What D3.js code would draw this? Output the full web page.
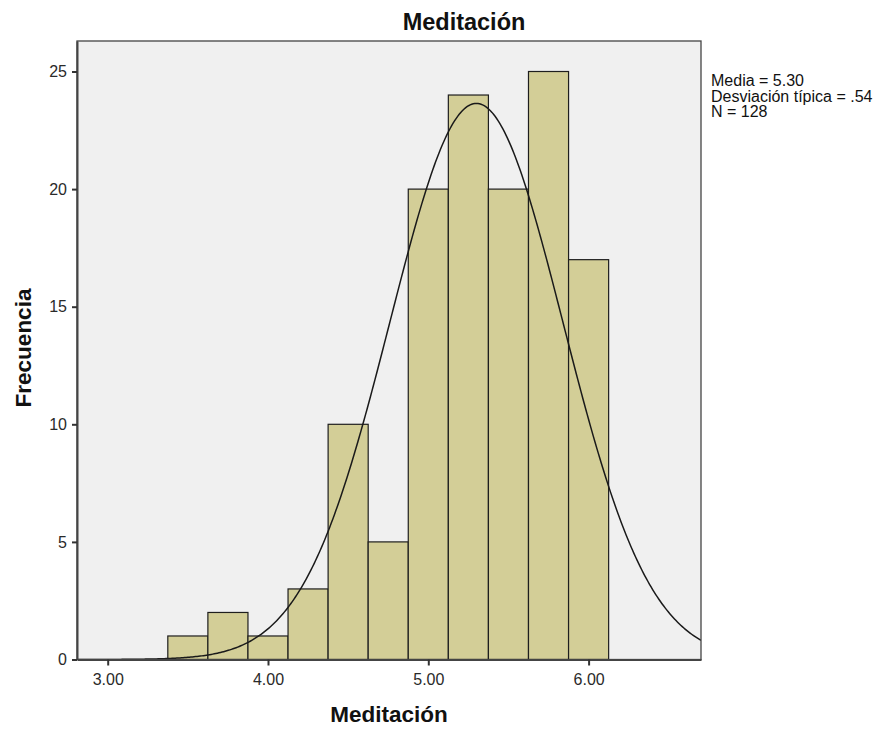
<!DOCTYPE html>
<html>
<head>
<meta charset="utf-8">
<script src="https://cdn.jsdelivr.net/npm/d3@7"></script>
<style>
  body { margin: 0; background: #fff; }
  text { font-family: "Liberation Sans", Arial, sans-serif; }
</style>
</head>
<body>
<div id="chart"></div>
<script>
// Histogram data (bin centres and counts)
const binCenters = [3.50, 3.75, 4.00, 4.25, 4.50, 4.75, 5.00, 5.25, 5.50, 5.75, 6.00];
const counts = [1, 2, 1, 3, 10, 5, 20, 24, 20, 25, 17];
const binWidth = 0.25;
const xTicks = [3, 4, 5, 6];
const yTicks = [0, 5, 10, 15, 20, 25];
const stats = { mean: 5.30, sd: 0.54, n: 128 };
const legendLines = ["Media = 5.30", "Desviación típica = .54", "N = 128"];

const width = 880, height = 730;
const plot = { left: 77, right: 701, top: 41, bottom: 659.5 };

const svg = d3.select("#chart").append("svg")
  .attr("width", width)
  .attr("height", height);

// scales: 3.00 sits at 107.7px, 1 unit = 160.3px
const pxPerUnit = 160.3;
const x = d3.scaleLinear()
  .domain([3 - (107.7 - plot.left) / pxPerUnit, 3 + (plot.right - 107.7) / pxPerUnit])
  .range([plot.left, plot.right]);
const y = d3.scaleLinear()
  .domain([0, (plot.bottom - plot.top) / 23.52])
  .range([plot.bottom, plot.top]);

// plot background
svg.append("rect")
  .attr("x", plot.left).attr("y", plot.top)
  .attr("width", plot.right - plot.left)
  .attr("height", plot.bottom - plot.top)
  .attr("fill", "#f0f0f0");

svg.append("clipPath").attr("id", "clip")
  .append("rect")
  .attr("x", plot.left).attr("y", plot.top)
  .attr("width", plot.right - plot.left)
  .attr("height", plot.bottom - plot.top);

// bars
svg.append("g").selectAll("rect")
  .data(binCenters)
  .enter()
  .append("rect")
  .attr("x", d => x(d - binWidth / 2))
  .attr("y", (d, i) => y(counts[i]))
  .attr("width", d => x(d + binWidth / 2) - x(d - binWidth / 2))
  .attr("height", (d, i) => y(0) - y(counts[i]))
  .attr("fill", "#d3ce97")
  .attr("stroke", "#1e1e1e")
  .attr("stroke-width", 1.2);

// normal curve
const scale = stats.n * binWidth / (stats.sd * Math.sqrt(2 * Math.PI));
const curvePts = d3.range(0, 401).map(i => {
  const xv = x.domain()[0] + (x.domain()[1] - x.domain()[0]) * i / 400;
  const z = (xv - stats.mean) / stats.sd;
  return [xv, scale * Math.exp(-0.5 * z * z)];
});
svg.append("path")
  .datum(curvePts)
  .attr("clip-path", "url(#clip)")
  .attr("fill", "none")
  .attr("stroke", "#1a1a1a")
  .attr("stroke-width", 1.5)
  .attr("d", d3.line().x(d => x(d[0])).y(d => y(d[1])));

// frame
svg.append("rect")
  .attr("x", plot.left).attr("y", plot.top)
  .attr("width", plot.right - plot.left)
  .attr("height", plot.bottom - plot.top)
  .attr("fill", "none")
  .attr("stroke", "#444")
  .attr("stroke-width", 1.3);

// axes
const xAxis = svg.append("g")
  .attr("transform", `translate(0,${plot.bottom})`)
  .call(d3.axisBottom(x).tickValues(xTicks).tickFormat(d3.format(".2f")).tickSizeInner(6).tickSizeOuter(0).tickPadding(8));
const yAxis = svg.append("g")
  .attr("transform", `translate(${plot.left},0)`)
  .call(d3.axisLeft(y).tickValues(yTicks).tickFormat(d3.format("d")).tickSizeInner(5).tickSizeOuter(0).tickPadding(5));

[xAxis, yAxis].forEach(g => {
  g.select(".domain").attr("stroke", "#444").attr("stroke-width", 2);
  g.selectAll(".tick line").attr("stroke", "#333").attr("stroke-width", 2);
  g.selectAll(".tick text")
    .attr("fill", "#2a2a2a")
    .style("font-family", "'Liberation Sans', Arial, sans-serif")
    .style("font-size", "16px");
});

// titles
svg.append("text")
  .attr("x", 464).attr("y", 30)
  .attr("text-anchor", "middle")
  .style("font-size", "23.5px").style("font-weight", "bold")
  .attr("fill", "#111")
  .text("Meditación");

svg.append("text")
  .attr("x", 389).attr("y", 722)
  .attr("text-anchor", "middle")
  .style("font-size", "22.5px").style("font-weight", "bold")
  .attr("fill", "#111")
  .text("Meditación");

svg.append("text")
  .attr("transform", "translate(31,348) rotate(-90)")
  .attr("text-anchor", "middle")
  .style("font-size", "22.5px").style("font-weight", "bold")
  .attr("fill", "#111")
  .text("Frecuencia");

// stats legend
svg.append("g").selectAll("text")
  .data(legendLines)
  .enter()
  .append("text")
  .attr("x", 711)
  .attr("y", (d, i) => 86 + i * 15.5)
  .style("font-size", "16px")
  .attr("fill", "#111")
  .text(d => d);
</script>
</body>
</html>
